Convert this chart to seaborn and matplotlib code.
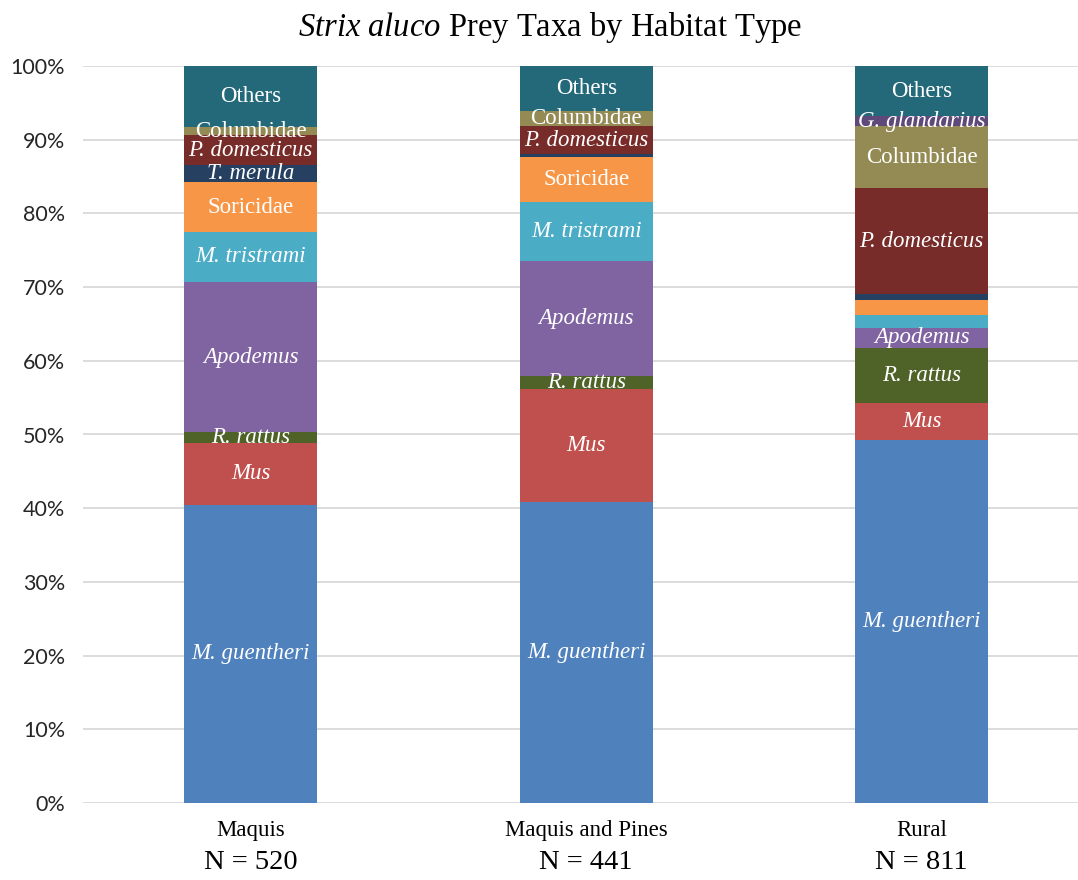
import numpy as np
import pandas as pd
import matplotlib.pyplot as plt
import seaborn as sns

# ── Datos (porcentaje de presas por hábitat) ─────────────────
habitats = ["Maquis", "Maquis and Pines", "Rural"]
n_presas = [520, 441, 811]

taxa = ["M. guentheri", "Mus", "R. rattus", "Apodemus", "M. tristrami",
        "Soricidae", "T. merula", "P. domesticus", "Columbidae",
        "G. glandarius", "Others"]

m_guentheri  = [40.5, 40.9, 49.2]
mus          = [8.3, 15.3, 5.1]
r_rattus     = [1.5, 1.8, 7.4]
apodemus     = [20.4, 15.5, 2.8]
m_tristrami  = [6.8, 8.0, 1.7]
soricidae    = [6.7, 6.2, 2.1]
t_merula     = [2.3, 0.3, 0.7]
p_domesticus = [4.1, 3.8, 14.4]
columbidae   = [1.1, 2.1, 8.4]
g_glandarius = [0.0, 0.0, 1.4]
others       = [8.3, 6.1, 6.8]

colores = ["#4F81BD", "#C0504D", "#4F6228", "#8064A2", "#4BACC6",
           "#F79646", "#254061", "#772C2A", "#948A54", "#5F497A", "#246979"]

# etiquetas que no se muestran (segmentos muy pequeños)
ocultas = {("Maquis and Pines", "T. merula"),
           ("Rural", "T. merula"), ("Rural", "Soricidae"),
           ("Rural", "M. tristrami")}
no_italica = {"Soricidae", "Columbidae", "Others"}

valores = [m_guentheri, mus, r_rattus, apodemus, m_tristrami, soricidae,
           t_merula, p_domesticus, columbidae, g_glandarius, others]
df = pd.DataFrame(np.array(valores).T, columns=taxa)
df.insert(0, "habitat", habitats)
acum = df[taxa].cumsum(axis=1)

# ── Figura ────────────────────────────────────────────────────
sns.set_style("white")
plt.rcParams["mathtext.fontset"] = "custom"
plt.rcParams["mathtext.rm"] = "Liberation Serif"
plt.rcParams["mathtext.it"] = "Liberation Serif:italic"

fig = plt.figure(figsize=(10.78, 8.8), dpi=100)
ax = fig.add_axes([0.077, 0.0875, 0.923, 0.8375])

# barras apiladas: se dibujan los acumulados de arriba hacia abajo
for taxon, color in reversed(list(zip(taxa, colores))):
    sns.barplot(x=df["habitat"], y=acum[taxon], color=color, width=0.397,
                ax=ax, saturation=1, linewidth=0, zorder=3)

for i, hab in enumerate(habitats):
    base = 0.0
    for taxon in taxa:
        v = df.loc[i, taxon]
        if v > 0 and (hab, taxon) not in ocultas:
            ax.text(i, base + v / 2, taxon, ha="center", va="center",
                    color="white", fontsize=16.5, family="Liberation Serif",
                    style="normal" if taxon in no_italica else "italic",
                    zorder=5)
        base += v

ax.set_xlim(-0.5, 2.466)
ax.set_ylim(0, 100)
ax.set_yticks(range(0, 101, 10))
ax.set_yticklabels([f"{t}%" for t in range(0, 101, 10)],
                   family="Lato", fontsize=15.5, color="#262626")
ax.grid(axis="y", color="#D9D9D9", linewidth=1.3, zorder=0)
ax.tick_params(axis="y", length=0, pad=13)
ax.tick_params(axis="x", length=0)
ax.set_xticks(range(3))
ax.set_xticklabels([])
ax.set_xlabel("")
ax.set_ylabel("")
for s in ax.spines.values():
    s.set_visible(False)

for i, (hab, n) in enumerate(zip(habitats, n_presas)):
    ax.text(i, -3.7, hab, ha="center", va="center", fontsize=16.5,
            family="Liberation Serif", color="black", clip_on=False)
    ax.text(i, -8.1, f"N = {n}", ha="center", va="center", fontsize=20.5,
            family="Liberation Serif", color="black", clip_on=False)

# título con parte en cursiva
fig.text(0.51, 0.969, r"$\it{Strix\ aluco}$ Prey Taxa by Habitat Type",
         ha="center", va="center", fontsize=23.5, family="Liberation Serif",
         color="black")

plt.savefig("out.png", dpi=100)
